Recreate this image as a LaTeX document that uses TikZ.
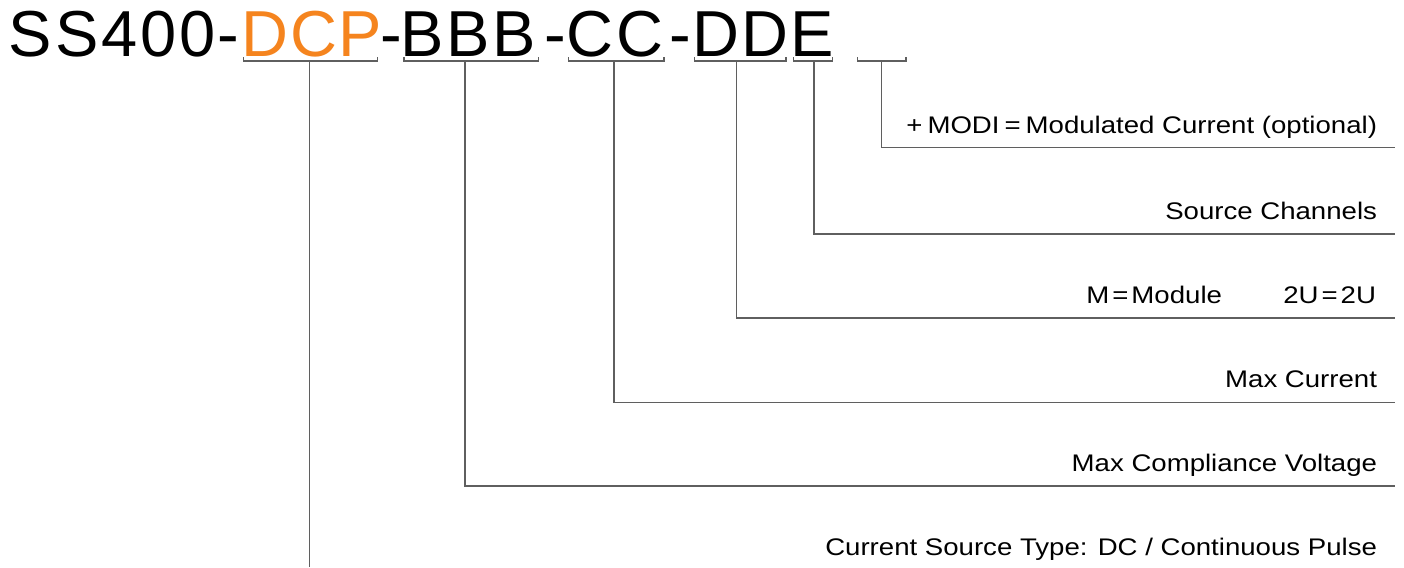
\documentclass[tikz,border=0pt]{standalone}
\usepackage{fontspec}
\setmainfont{Liberation Sans}
\newfontfamily\lblfont[FakeStretch=1.15]{Liberation Sans}
\definecolor{dcporange}{RGB}{245,132,30}
\definecolor{linegray}{RGB}{95,95,95}
\newcommand{\tk}{\kern3pt}
\newcommand{\myeq}{\kern3pt=\kern3pt}
\newcommand{\myeqw}{\kern5pt=\kern5pt}
\newcommand{\mypl}{+\kern5pt}
\begin{document}
\begin{tikzpicture}[x=1pt,y=-1pt,
  titletext/.style={anchor=base west, inner sep=0pt, outer sep=0pt, font=\fontsize{65}{70}\selectfont},
  lbl/.style={anchor=base east, inner sep=0pt, outer sep=0pt, font=\lblfont\fontsize{24}{28}\selectfont},
  leader/.style={draw=linegray, line width=1.3pt},
  brk/.style={draw=linegray, line width=1.1pt}]
\fill[white] (0,0) rectangle (1404,567);
\useasboundingbox (0,0) rectangle (1404,567);
% title segments
\node[titletext] (tSS) at (8.7,57) {S\tk S\tk 4\tk 0\tk 0};
\node[titletext] (h1) at (217,57) {-};
\node[titletext, text=dcporange] (tDCP) at (241.7,57) {D\kern1.5pt C\kern1.5pt P};
\node[titletext] (h2) at (380,57) {-};
\node[titletext] (tBBB) at (400.3,57) {B\tk B\tk B};
\node[titletext] (h3) at (544,57) {-};
\node[titletext] (tCC) at (566.8,57) {C\tk C};
\node[titletext] (h4) at (669,57) {-};
\node[titletext] (tDD) at (692,57) {D\tk D};
\node[titletext] (tE) at (790.3,57) {E};
% brackets
\draw[brk] (243.3,57.5) -- (243.3,61) -- (377.7,61) -- (377.7,57.5);
\draw[brk] (404,57.5) -- (404,61) -- (538.3,61) -- (538.3,57.5);
\draw[brk] (568.3,57.5) -- (568.3,61) -- (664,61) -- (664,57.5);
\draw[brk] (694.3,57.5) -- (694.3,61) -- (786,61) -- (786,57.5);
\draw[brk] (793.3,57.5) -- (793.3,61) -- (832.5,61) -- (832.5,57.5);
\draw[brk] (857.3,57.5) -- (857.3,61) -- (906,61) -- (906,57.5);
% bracket centres
\coordinate (cDCP) at (309.5,61);
\coordinate (cBBB) at (465,61);
\coordinate (cCC) at (614,61);
\coordinate (cDD) at (736.5,61);
\coordinate (cE) at (814,61);
\coordinate (cOPT) at (881.7,61);
% line ends
\coordinate (eOPT) at (1395,147.7);
\coordinate (eE) at (1395,234);
\coordinate (eDD) at (1395,318);
\coordinate (eCC) at (1395,402.3);
\coordinate (eBBB) at (1395,486);
\coordinate (eDCP) at (309.5,567);
% labels
\node[lbl] (lOPT) at (1377,133) {\mypl MODI\myeqw Modulated Current (optional)};
\node[lbl] (lE) at (1377,219) {Source Channels};
\node[lbl] (lDDa) at (1222,303) {M\myeq Module};
\node[lbl] (lDDb) at (1376,303) {2U\myeq 2U};
\node[lbl] (lCC) at (1377,387.3) {Max Current};
\node[lbl] (lBBB) at (1377,471) {Max Compliance Voltage};
\node[lbl] (lDCP) at (1377,555) {Current Source Type: DC / Continuous Pulse};
% leaders
\draw[leader] (cOPT) |- (eOPT);
\draw[leader] (cE) |- (eE);
\draw[leader] (cDD) |- (eDD);
\draw[leader] (cCC) |- (eCC);
\draw[leader] (cBBB) |- (eBBB);
\draw[leader] (cDCP) -- (eDCP);
\end{tikzpicture}
\end{document}
